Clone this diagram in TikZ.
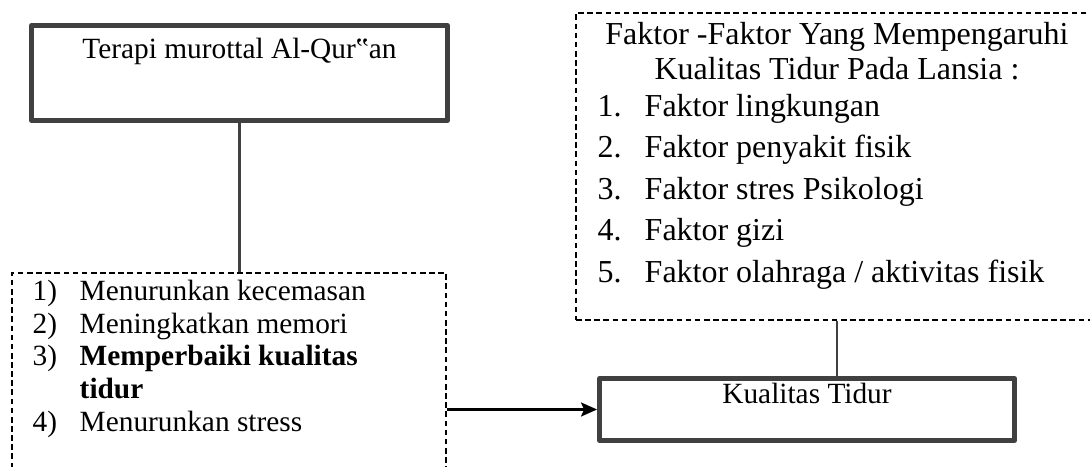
\documentclass[tikz,border=0pt]{standalone}
\usepackage{fontspec}
\setmainfont{Liberation Serif}
\usetikzlibrary{shapes,arrows,arrows.meta,positioning}
\usepackage{xcolor}
\definecolor{boxgray}{RGB}{64,64,64}

\begin{document}
\begin{tikzpicture}[
    thickbox/.style={rectangle, draw=boxgray, line width=2.8pt, line join=round, inner sep=0pt},
    dashbox/.style={rectangle, draw, line width=0.7pt, dash pattern=on 3.2pt off 2pt, inner sep=0pt},
    txtsmall/.style={inner sep=0pt, font=\fontsize{16.7}{18.6}\selectfont},
    txthead/.style={inner sep=0pt, font=\fontsize{18.2}{19.9}\selectfont},
    txtlist/.style={inner sep=0pt, font=\fontsize{18.2}{23.6}\selectfont},
    link/.style={draw=boxgray, line width=1.3pt}]
    \clip (0,0) rectangle (21.8,9.32);
    % boxes
    \node [thickbox, minimum width=8.32cm, minimum height=1.90cm] (terapi) at (4.79,7.86) {};
    \node [dashbox, minimum width=8.68cm, minimum height=4.8cm] (efek) at (4.58,1.46) {};
    \node [dashbox, minimum width=10.44cm, minimum height=6.14cm] (faktor) at (16.74,5.99) {};
    \node [thickbox, minimum width=8.30cm, minimum height=1.24cm] (kualitas) at (16.14,1.13) {};
    % texts
    \node [txtsmall, anchor=base] (terapitxt) at ([yshift=-0.70cm]terapi.north) {Terapi murottal Al-Qur‟an};
    \node [txtsmall, anchor=base west] (efektxt) at ([xshift=0.42cm, yshift=-0.56cm]efek.north west) {%
        \begin{tabular}[t]{@{}p{0.94cm}@{}l@{}}
        1) & Menurunkan kecemasan\\
        2) & Meningkatkan memori\\
        3) & \textbf{Memperbaiki kualitas}\\
           & \textbf{tidur}\\
        4) & Menurunkan stress
        \end{tabular}};
    \node [txthead, anchor=base] (faktorjudul) at ([yshift=-0.64cm]faktor.north) {%
        \begin{tabular}[t]{@{}c@{}}
        Faktor -Faktor Yang Mempengaruhi\\
        Kualitas Tidur Pada Lansia :
        \end{tabular}};
    \node [txtlist, anchor=base west] (faktorlist) at ([xshift=0.44cm, yshift=-2.08cm]faktor.north west) {%
        \begin{tabular}[t]{@{}p{0.94cm}@{}l@{}}
        1. & Faktor lingkungan\\
        2. & Faktor penyakit fisik\\
        3. & Faktor stres Psikologi\\
        4. & Faktor gizi\\
        5. & Faktor olahraga / aktivitas fisik
        \end{tabular}};
    \node [txtsmall, anchor=base] (kualitastxt) at ([yshift=-0.54cm]kualitas.north) {Kualitas Tidur};
    % connectors
    \draw [link] (terapi.south) -- (terapi.south |- efek.north);
    \draw [link] (faktor.south) -- (faktor.south |- kualitas.north);
    \draw [line width=1.2pt, -{Stealth[length=0.32cm, width=0.28cm, inset=0.06cm]}] (kualitas.west -| efek.east) -- (kualitas.west);
\end{tikzpicture}
\end{document}
